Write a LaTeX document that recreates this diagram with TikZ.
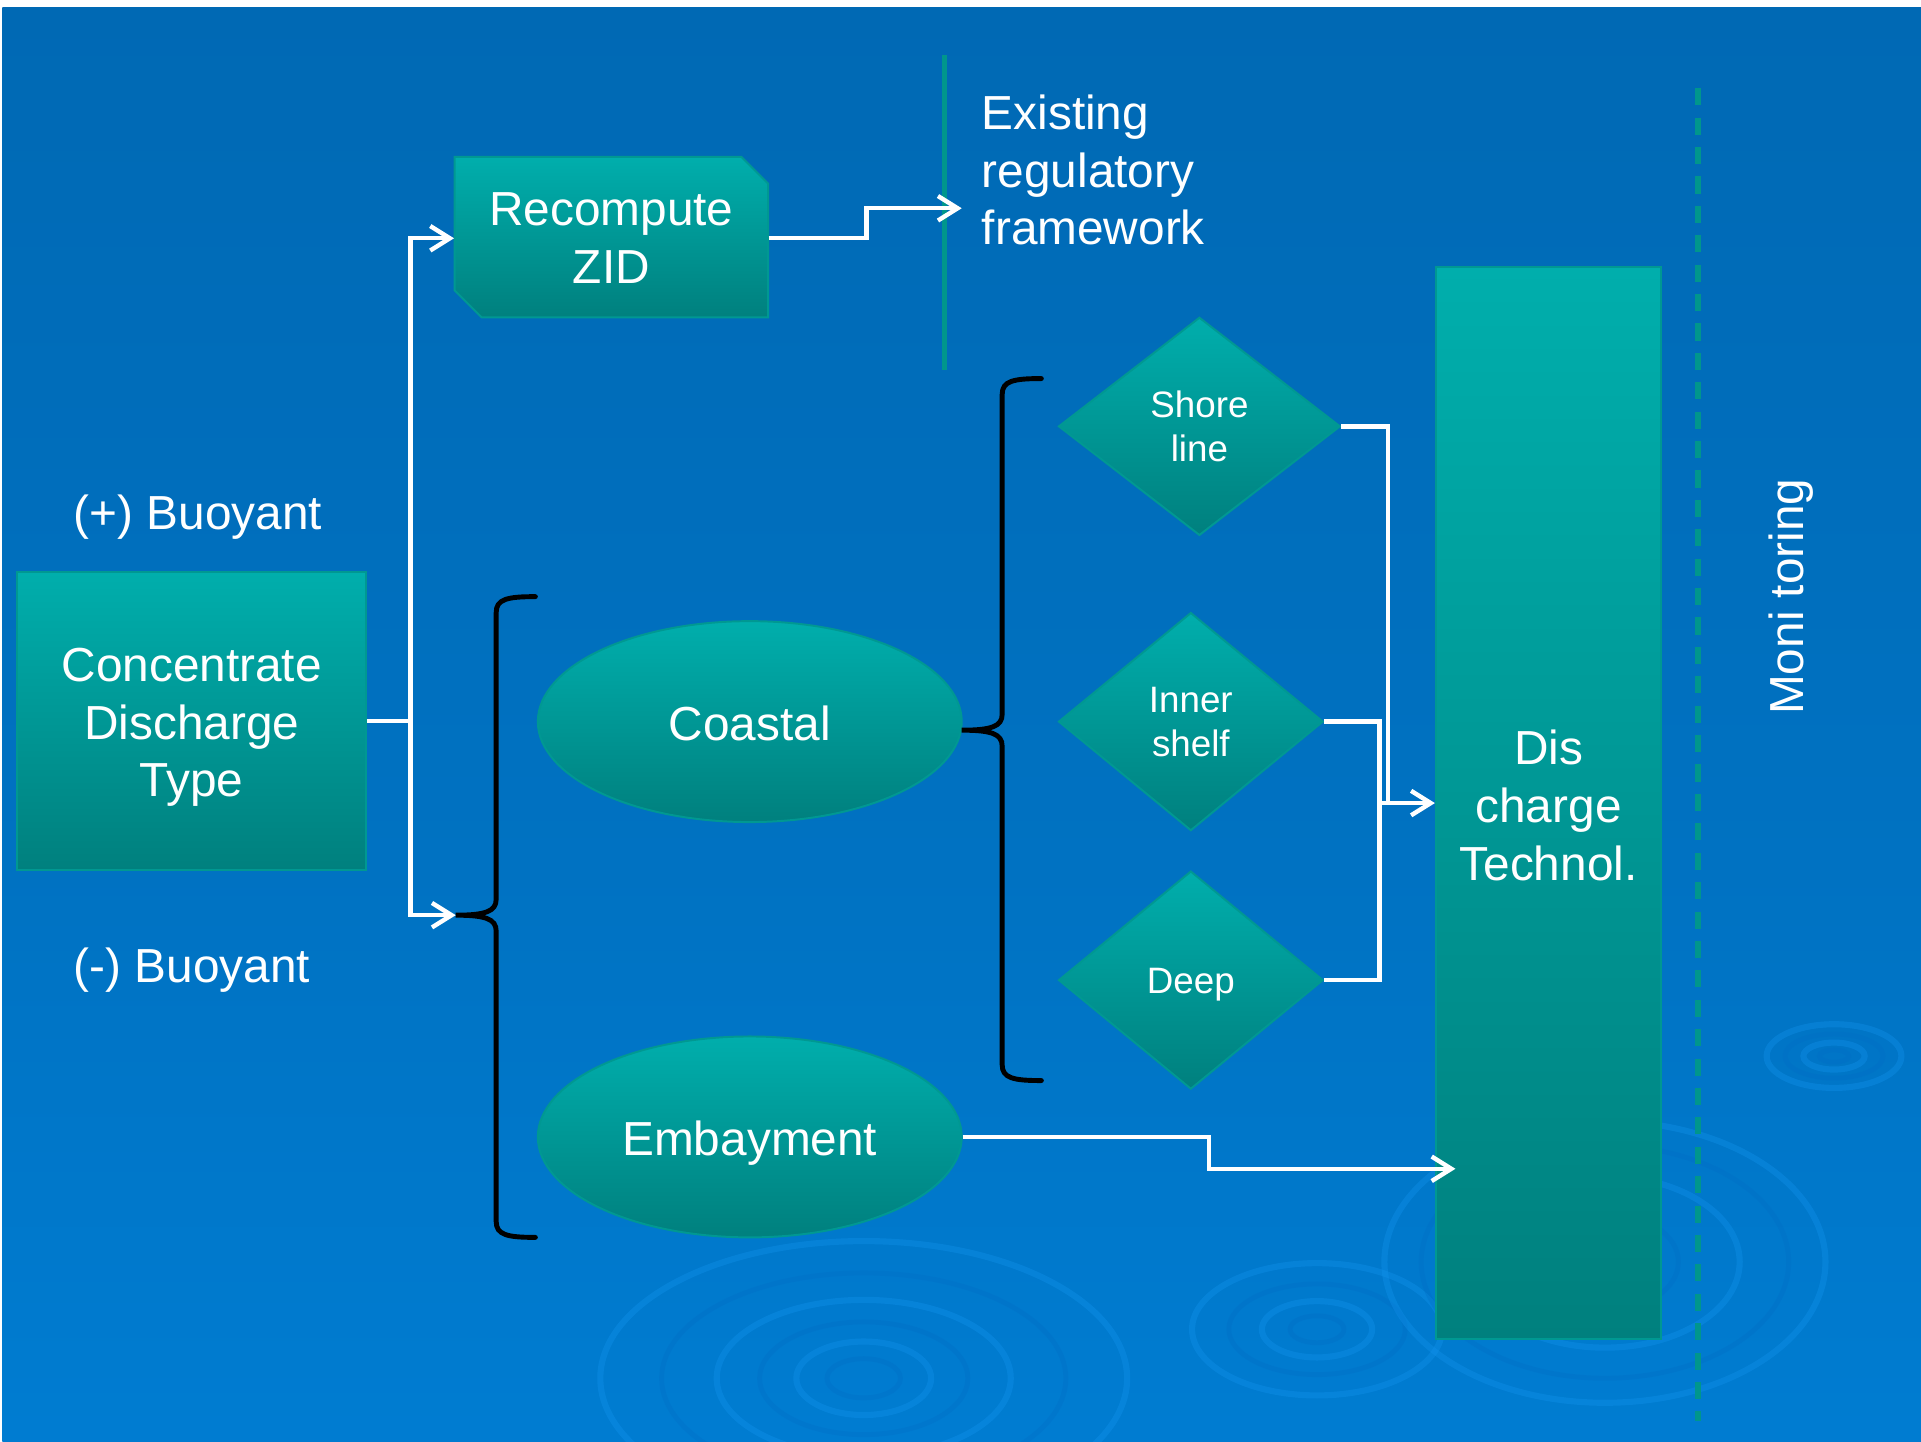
\documentclass[tikz,border=0pt]{standalone}
\usepackage{fontspec}
\setmainfont{Liberation Sans}
\usetikzlibrary{shapes.geometric,arrows.meta,calc}
\definecolor{bgtop}{RGB}{0,100,173}
\definecolor{bgmidA}{RGB}{0,105,180}
\definecolor{bgmidB}{RGB}{0,114,194}
\definecolor{bgmidC}{RGB}{0,127,213}
\definecolor{bgbot}{RGB}{0,136,226}
\definecolor{tealtop}{RGB}{0,174,172}
\definecolor{tealbot}{RGB}{0,128,126}
\definecolor{tealedge}{RGB}{0,152,146}
\definecolor{tealline}{RGB}{0,150,140}
\definecolor{ripple}{RGB}{20,148,238}
\definecolor{rippledark}{RGB}{0,108,196}
\pgfdeclareverticalshading{bgshade}{100bp}{color(0bp)=(bgbot); color(20bp)=(bgmidC); color(45bp)=(bgmidB); color(75bp)=(bgmidA); color(100bp)=(bgtop)}
\tikzset{
  tealfill/.style={top color=tealtop, bottom color=tealbot, draw=tealedge, line width=0.8pt},
  bigtxt/.style={text=white, font=\fontsize{19.5}{23.5}\selectfont, align=center},
  smalltxt/.style={text=white, font=\fontsize{15}{18}\selectfont, align=center},
  onebig/.style={text height=19.5pt, text depth=4pt},
  onesmall/.style={text height=14.5pt, text depth=3.2pt},
  wire/.style={draw=white, line width=1.8pt},
  arr/.style={wire, -{Straight Barb[length=8pt,width=10pt]}},
  bracepath/.style={draw=black, line width=2pt, line cap=round},
  rip/.style={draw=ripple, opacity=0.35, line width=2.5pt},
  ripd/.style={draw=rippledark, opacity=0.3, line width=2pt},
}
\begin{document}
\begin{tikzpicture}[x=0.5pt,y=-0.5pt]
\useasboundingbox (0,0) rectangle (1568,1177);
\fill[white] (0,0) rectangle (1568,1177);
\shade[shading=bgshade] (2,6) rectangle (1568,1177);
% ripples
\begin{scope}
\clip (2,6) rectangle (1568,1177);
\foreach \a/\b in {55/30,120/64,215/112}{\draw[rip] (705,1125) ellipse ({\a} and {\b});}
\foreach \a/\b in {30/16,85/46,165/86}{\draw[ripd] (705,1125) ellipse ({\a} and {\b});}
\foreach \a/\b in {45/23,102/54}{\draw[rip] (1075,1085) ellipse ({\a} and {\b});}
\foreach \a/\b in {22/11,72/37}{\draw[ripd] (1075,1085) ellipse ({\a} and {\b});}
\foreach \a/\b in {110/70,180/115}{\draw[rip] (1310,1030) ellipse ({\a} and {\b});}
\foreach \a/\b in {60/40,150/95}{\draw[ripd] (1310,1030) ellipse ({\a} and {\b});}
\foreach \a/\b in {25/11,55/26}{\draw[rip] (1497,862) ellipse ({\a} and {\b});}
\foreach \a/\b in {12/5,40/18}{\draw[ripd] (1497,862) ellipse ({\a} and {\b});}
\end{scope}

% separators
\draw[tealline, line width=2pt] (771,45) -- (771,302);
\draw[tealline, line width=2.3pt, dash pattern=on 7pt off 5pt] (1386,72) -- (1386,1160);

% nodes
\node[rectangle, tealfill, bigtxt, minimum width=142.5pt, minimum height=121.5pt, inner sep=0pt] (cdt) at (156.5,588.5) {\rule{0pt}{19pt}Concentrate\\Discharge\\Type};
\shade[top color=tealtop, bottom color=tealbot, draw=tealedge, line width=0.8pt] (371,128) -- (605,128) -- (627,150) -- (627,259) -- (393,259) -- (371,237) -- cycle;
\node[bigtxt, minimum width=128pt, minimum height=65.5pt, inner sep=0pt] (zid) at (499,194.5) {Recompute\\ZID};
\node[bigtxt, align=left, anchor=west, inner sep=0pt] (frame) at (801,139) {Existing\\regulatory\\framework};
\node[bigtxt, anchor=west, inner sep=0pt] (pb) at (60,422) {(+) Buoyant};
\node[bigtxt, anchor=west, inner sep=0pt] (nb) at (60,792) {(-) Buoyant};
\node[ellipse, tealfill, bigtxt, onebig, minimum width=173pt, minimum height=82pt, inner sep=0pt] (coastal) at (612,589) {Coastal};
\node[ellipse, tealfill, bigtxt, onebig, minimum width=173pt, minimum height=82pt, inner sep=0pt] (emb) at (612,928) {Embayment};
\node[diamond, tealfill, smalltxt, minimum width=115pt, minimum height=89pt, inner sep=0pt] (shore) at (979,348) {Shore\\line};
\node[diamond, tealfill, smalltxt, minimum width=108pt, minimum height=89pt, inner sep=0pt] (inner) at (972,589) {Inner\\shelf};
\node[diamond, tealfill, smalltxt, onesmall, minimum width=108pt, minimum height=89pt, inner sep=0pt] (deep) at (972,800) {Deep};
\node[rectangle, tealfill, bigtxt, minimum width=92pt, minimum height=437.5pt, inner sep=0pt] (disc) at (1264,655.5) {\rule{0pt}{16pt}Dis\\charge\\Technol.};
\node[bigtxt, rotate=90, inner sep=0pt] (mon) at (1462,487) {Moni toring};

% braces
\coordinate (b1tip) at (372,747);
\coordinate (b2tip) at (785,596);
\draw[bracepath] (437,487) .. controls (414,487) and (405,489) .. (405,500) -- (405,734)
  .. controls (405,744) and (396,747) .. (b1tip)
  .. controls (396,747) and (405,750) .. (405,760) -- (405,997)
  .. controls (405,1008) and (414,1010) .. (437,1010);
\draw[bracepath] (850,309) .. controls (827,309) and (818,311) .. (818,322) -- (818,583)
  .. controls (818,593) and (809,596) .. (b2tip)
  .. controls (809,596) and (818,599) .. (818,609) -- (818,869)
  .. controls (818,880) and (827,882) .. (850,882);

% connectors
\coordinate (split) at (335,588.5);
\coordinate (fwin) at (785,170);
\coordinate (j1) at (1133,655.5);
\coordinate (j2) at (1126,800);
\coordinate (j3) at (1126,655.5);
\coordinate (discin) at (1188,954);
\draw[wire] (cdt.east) -- (split);
\draw[arr] (split) |- (zid.west);
\draw[arr] (split) |- (b1tip);
\draw[arr] (zid.east) -- ++(80,0) |- (fwin);
\draw[wire] (shore.east) -| (j1);
\draw[wire] (inner.east) -| (j2) -- (deep.east);
\draw[arr] (j3) -- (disc.west);
\draw[arr] (emb.east) -- (987,928) |- (discin);
\end{tikzpicture}
\end{document}
